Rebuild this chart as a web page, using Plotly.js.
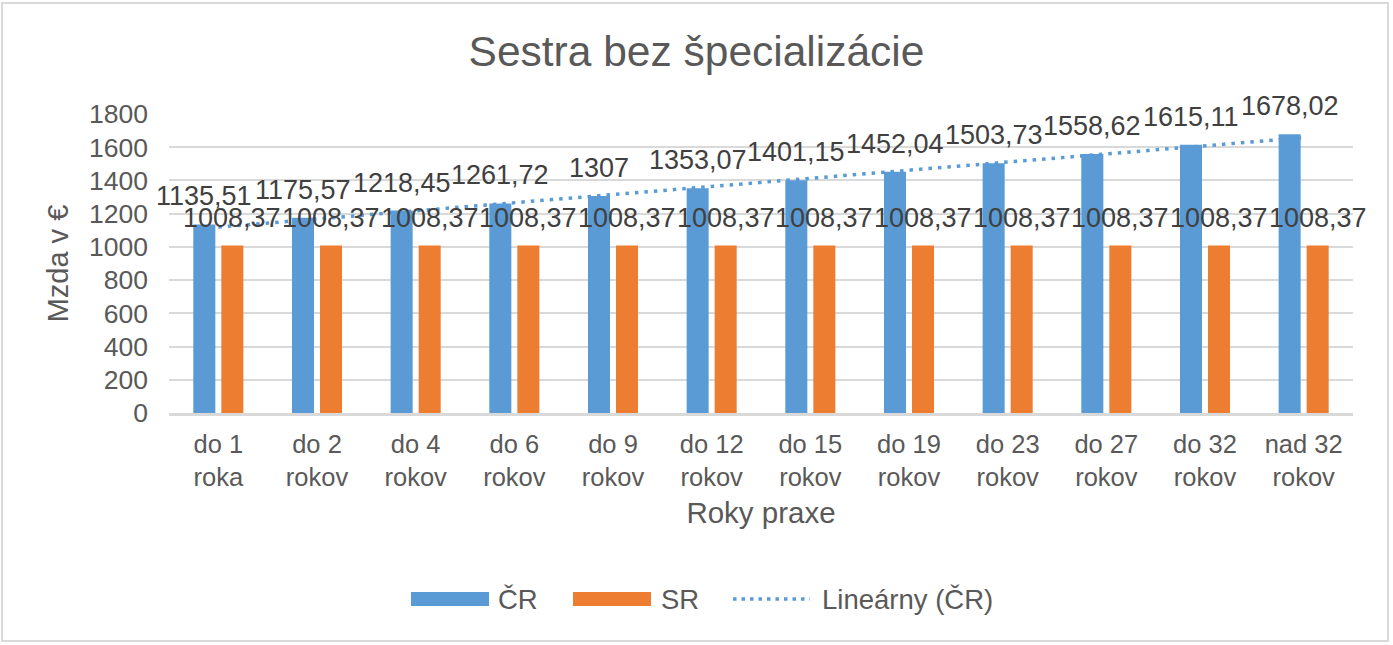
<!DOCTYPE html>
<html>
<head>
<meta charset="utf-8">
<script src="https://cdn.plot.ly/plotly-3.0.1.min.js"></script>
<style>
  body { margin: 0; background: #fff; }
  #chart { width: 1393px; height: 645px; }
  #frame { position: absolute; left: 1px; top: 2px; width: 1384px; height: 636px;
           border: 2px solid #d9d9d9; pointer-events: none; }
</style>
</head>
<body>
<div id="chart"></div>
<div id="frame"></div>
<script>
// Daten
const categories = [
  'do 1<br>roka', 'do 2<br>rokov', 'do 4<br>rokov', 'do 6<br>rokov',
  'do 9<br>rokov', 'do 12<br>rokov', 'do 15<br>rokov', 'do 19<br>rokov',
  'do 23<br>rokov', 'do 27<br>rokov', 'do 32<br>rokov', 'nad 32<br>rokov'
];
const crValues = [1135.51, 1175.57, 1218.45, 1261.72, 1307, 1353.07,
                  1401.15, 1452.04, 1503.73, 1558.62, 1615.11, 1678.02];
const srValues = [1008.37, 1008.37, 1008.37, 1008.37, 1008.37, 1008.37,
                  1008.37, 1008.37, 1008.37, 1008.37, 1008.37, 1008.37];
const yTicks = [0, 200, 400, 600, 800, 1000, 1200, 1400, 1600, 1800];

const blue = '#5B9BD5';
const orange = '#ED7D31';
const grey = '#595959';
const font = 'Liberation Sans, Arial, sans-serif';

// Plotbereich in Pixeln
const L = 169, T = 114, W = 1184, H = 299;
const px = x => (x - L) / W;
const py = y => (T + H - y) / H;

// lineare Trendlinie (kleinste Quadrate), wie "Lineárny" in Excel
function linearTrend(vals) {
  const n = vals.length;
  const mx = (n - 1) / 2;
  const my = vals.reduce((a, b) => a + b, 0) / n;
  let sxy = 0, sxx = 0;
  vals.forEach((v, i) => { sxy += (i - mx) * (v - my); sxx += (i - mx) * (i - mx); });
  const k = sxy / sxx;
  return vals.map((v, i) => my + k * (i - mx));
}
const trend = linearTrend(crValues);

const fmt = v => String(v).replace('.', ',');

// Trendlinie unten, Balken auf überlagerter Achse darüber
const traces = [
  {
    type: 'scatter', mode: 'lines', name: 'Lineárny (ČR)',
    x: categories, y: trend, xaxis: 'x', yaxis: 'y',
    line: { color: blue, width: 3.5, dash: '3.5px,6px' },
    hoverinfo: 'skip', showlegend: false
  },
  {
    type: 'bar', name: 'ČR', x: categories, y: crValues,
    xaxis: 'x2', yaxis: 'y2', marker: { color: blue }, showlegend: false
  },
  {
    type: 'bar', name: 'SR', x: categories, y: srValues,
    xaxis: 'x2', yaxis: 'y2', marker: { color: orange }, showlegend: false
  }
];

// Datenbeschriftungen
const labelFont = { family: font, size: 27, color: '#404040' };
const dataLabels = [];
categories.forEach((c, i) => {
  dataLabels.push({ x: c, y: crValues[i], xref: 'x', yref: 'y', text: fmt(crValues[i]),
    showarrow: false, yanchor: 'bottom', xshift: -14, yshift: 11, font: labelFont });
  dataLabels.push({ x: c, y: srValues[i], xref: 'x', yref: 'y', text: fmt(srValues[i]),
    showarrow: false, yanchor: 'bottom', xshift: 14, yshift: 11, font: labelFont });
});

// eigene Legende (breite Symbole wie im Original)
const legendItems = [
  { name: 'ČR', kind: 'rect', color: blue, x0: 411, x1: 489, tx: 496 },
  { name: 'SR', kind: 'rect', color: orange, x0: 573, x1: 651, tx: 659 },
  { name: 'Lineárny (ČR)', kind: 'dot', color: blue, x0: 733, x1: 810, tx: 820 }
];
const legendY = 599;
const legendShapes = legendItems.map(it => it.kind === 'rect'
  ? { type: 'rect', xref: 'paper', yref: 'paper', x0: px(it.x0), x1: px(it.x1),
      y0: py(legendY - 7), y1: py(legendY + 7), fillcolor: it.color, line: { width: 0 } }
  : { type: 'line', xref: 'paper', yref: 'paper', x0: px(it.x0), x1: px(it.x1),
      y0: py(legendY), y1: py(legendY), line: { color: it.color, width: 3.5, dash: '3.5px,5px' } });
const legendLabels = legendItems.map(it => ({
  xref: 'paper', yref: 'paper', x: px(it.tx), y: py(legendY), xanchor: 'left', yanchor: 'middle',
  text: it.name, showarrow: false, font: { family: font, size: 27.5, color: grey }
}));

const layout = {
  width: 1393, height: 645,
  margin: { l: L, r: 1393 - L - W, t: T, b: 645 - T - H },
  paper_bgcolor: '#fff', plot_bgcolor: '#fff',
  font: { family: font, color: grey },
  title: {
    text: 'Sestra bez špecializácie', font: { family: font, size: 42.5, color: grey },
    x: 0.5, xref: 'container', y: 1 - 51 / 645, yref: 'container', yanchor: 'middle'
  },
  barmode: 'group', bargap: 0.432, bargroupgap: 0.214,
  showlegend: false,
  xaxis: {
    type: 'category', range: [-0.5, 11.5], showgrid: false, zeroline: false, ticks: '',
    showline: true, linecolor: '#d9d9d9', linewidth: 2.5,
    tickfont: { family: font, size: 25.5, color: grey }, ticklabelstandoff: 7,
    title: { text: 'Roky praxe', font: { family: font, size: 29.5, color: grey }, standoff: 12 },
    automargin: true
  },
  yaxis: {
    range: [0, 1800], tickvals: yTicks, ticks: '', zeroline: false, showline: false,
    gridcolor: '#d9d9d9', gridwidth: 2,
    tickfont: { family: font, size: 26.5, color: grey }, ticklabelstandoff: 20,
    title: { text: 'Mzda v €', font: { family: font, size: 29, color: grey }, standoff: 11 },
    automargin: true
  },
  xaxis2: { type: 'category', overlaying: 'x', matches: 'x', anchor: 'y2', visible: false },
  yaxis2: { overlaying: 'y', anchor: 'x2', range: [0, 1800], visible: false },
  shapes: legendShapes,
  annotations: [...dataLabels, ...legendLabels]
};

Plotly.newPlot('chart', traces, layout, { staticPlot: true, displayModeBar: false });
</script>
</body>
</html>
